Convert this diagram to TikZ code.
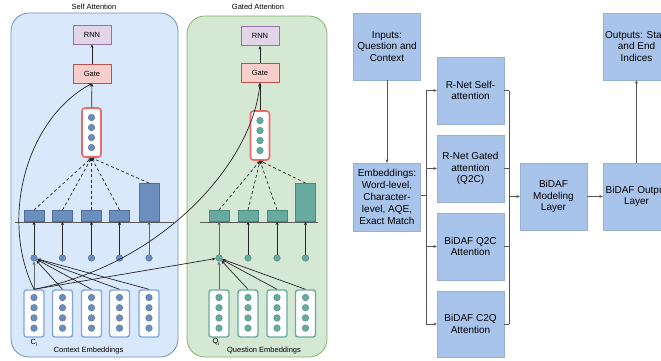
\documentclass[tikz,border=0pt]{standalone}
\usepackage{fontspec}
\setmainfont{Liberation Sans}
\usetikzlibrary{arrows.meta}

\definecolor{panelB}{HTML}{DAE8FC}
\definecolor{panelBline}{HTML}{6C8EBF}
\definecolor{panelG}{HTML}{D5E8D4}
\definecolor{panelGline}{HTML}{82B366}
\definecolor{rnnfill}{HTML}{E1D5E7}
\definecolor{rnnline}{HTML}{9673A6}
\definecolor{gatefill}{HTML}{F8CECC}
\definecolor{gateline}{HTML}{B85450}
\definecolor{vecred}{HTML}{EA6B66}
\definecolor{dotB}{HTML}{6C8EBF}
\definecolor{dotBline}{HTML}{4F6F9F}
\definecolor{dotG}{HTML}{67AB9F}
\definecolor{dotGline}{HTML}{4A8A7E}
\definecolor{embB}{HTML}{7EA6E0}
\definecolor{flowfill}{HTML}{A9C4EB}
\definecolor{flowline}{HTML}{555555}

\begin{document}
\begin{tikzpicture}[x=1pt,y=-1pt,
  font=\fontsize{7.5}{9}\selectfont,
  panel/.style={rounded corners=18pt,line width=0.8pt},
  rnnbox/.style={draw=rnnline,fill=rnnfill,line width=0.8pt,minimum width=38pt,minimum height=19pt,inner sep=0pt},
  gatebox/.style={draw=gateline,fill=gatefill,line width=0.8pt,minimum width=38pt,minimum height=19pt,inner sep=0pt},
  attvec/.style={draw=vecred,fill=white,line width=1.6pt,rounded corners=3pt,minimum width=19pt,minimum height=49pt,inner sep=0pt},
  embvecB/.style={draw=embB,fill=white,line width=1.4pt,rounded corners=2.5pt,minimum width=20pt,minimum height=47pt,inner sep=0pt},
  embvecG/.style={draw=dotG,fill=white,line width=1.4pt,rounded corners=2.5pt,minimum width=20pt,minimum height=47pt,inner sep=0pt},
  dotb/.style={circle,fill=dotB,draw=dotBline,line width=0.4pt,minimum size=6.6pt,inner sep=0pt},
  dotg/.style={circle,fill=dotG,draw=dotGline,line width=0.4pt,minimum size=6.6pt,inner sep=0pt},
  barb/.style={fill=dotB,draw=dotBline,line width=0.5pt,minimum width=20pt,inner sep=0pt,anchor=south},
  barg/.style={fill=dotG,draw=dotGline,line width=0.5pt,minimum width=20pt,inner sep=0pt,anchor=south},
  arr/.style={draw=black!85,line width=0.7pt,-{Stealth[length=3.5pt,width=3pt]}},
  grayarr/.style={draw=black!60,line width=0.8pt,-{Stealth[length=3.5pt,width=3pt]}},
  dasharr/.style={draw=black!85,line width=0.7pt,dash pattern=on 3pt off 2.5pt,-{Stealth[length=3.5pt,width=3pt]}},
  flowbox/.style={fill=flowfill,draw=flowfill!90!black,line width=0.3pt,minimum width=67pt,minimum height=67pt,inner sep=0pt,align=center,font=\fontsize{10}{11.8}\selectfont},
  flowarr/.style={draw=flowline,line width=0.7pt,-{Stealth[length=3.5pt,width=3pt]}},
  flowline/.style={draw=flowline,line width=0.7pt}
]
\useasboundingbox (0,0) rectangle (661,360);

% ---------- Self attention panel ----------
\draw[panel,fill=panelB,draw=panelBline] (11,13) rectangle (178,357);
\node (titleB) at (94,7) {Self Attention};
\node[rnnbox] (brnn) at (92,34.5) {RNN};
\node[gatebox] (bgate) at (92,73.5) {Gate};
\node[attvec] (bvec) at (91.5,132.5) {};
\foreach \dy in {-15,-5,5,15} \node[dotb] at (91.5,132.5+\dy) {};

% bars over the baseline
\draw[line width=0.9pt,draw=black!65] (15,222) -- (174,222);
\node[barb,minimum height=11pt] (bb1) at (34,221.5) {};
\node[barb,minimum height=11pt] (bb2) at (62.5,221.5) {};
\node[barb,minimum height=11pt] (bb3) at (91.5,221.5) {};
\node[barb,minimum height=11pt] (bb4) at (119.5,221.5) {};
\node[barb,minimum height=38pt] (bb5) at (149,221.5) {};

% per-position scores
\foreach \i/\x in {1/34,2/62.5,3/91.5,4/119.5,5/149}{
  \node[dotb] (bc\i) at (\x,258) {};
  \node[embvecB] (be\i) at (\x,313.5) {};
  \foreach \yy in {297.5,307.7,317.9,328.1} \node[dotb] at (\x,\yy) {};
}
\node at (34,343) {C\raisebox{-1.6pt}{\fontsize{5}{5}\selectfont i}};
\node at (88.5,351) {Context Embeddings};

% ---------- Gated attention panel ----------
\draw[panel,fill=panelG,draw=panelGline] (187,16) rectangle (327,357);
\node (titleG) at (258,7) {Gated Attention};
\node[rnnbox] (grnn) at (260,36) {RNN};
\node[gatebox] (ggate) at (260,73) {Gate};
\node[attvec] (gvec) at (260,135.5) {};
\foreach \dy in {-15,-5,5,15} \node[dotg] at (260,135.5+\dy) {};

\draw[line width=0.9pt,draw=black!65] (200,222) -- (318,222);
\node[barg,minimum height=11pt] (gb1) at (219,221.5) {};
\node[barg,minimum height=11pt] (gb2) at (248,221.5) {};
\node[barg,minimum height=11pt] (gb3) at (277,221.5) {};
\node[barg,minimum height=38pt] (gb4) at (305.5,221.5) {};

\foreach \i/\x in {1/219,2/248,3/277,4/305.5}{
  \node[dotg] (gc\i) at (\x,258) {};
  \node[embvecG] (ge\i) at (\x,313.5) {};
  \foreach \yy in {297.5,307.7,317.9,328.1} \node[dotg] at (\x,\yy) {};
}
\node at (216,342) {Q\raisebox{-1.6pt}{\fontsize{5}{5}\selectfont i}};
\node at (264,351) {Question Embeddings};

% ---------- connectors, self attention ----------
\draw[arr] (bgate) -- (brnn);
\draw[arr] (bvec) -- (bgate);
\foreach \i in {1,...,5} \draw[dasharr] (bb\i.north) -- (bvec.south);
\foreach \i in {1,...,4} \draw[arr] (bc\i) -- (bb\i.south);
\draw[grayarr] (bc5) -- (bb5.south);
\draw[grayarr] (be1.north) -- (bc1);
\foreach \i in {2,...,5} \draw[arr] (be\i.north) -- (bc1);
\draw[arr] (be1.north) .. controls (0,220) and (25,120) .. (bgate.south);

% ---------- connectors, gated attention ----------
\draw[arr] (ggate) -- (grnn);
\draw[arr] (gvec) -- (ggate);
\foreach \i in {1,...,4} \draw[dasharr] (gb\i.north) -- (gvec.south);
\draw[grayarr] (gc1) -- (gb1.south);
\foreach \i in {2,...,4} \draw[arr] (gc\i) -- (gb\i.south);
\draw[grayarr] (ge1.north) -- (gc1);
\foreach \i in {2,...,4} \draw[arr] (ge\i.north) -- (gc1);
\draw[arr] (be1.north) -- (gc1);
\draw[arr] (be1.north) .. controls (160,265) and (252,165) .. (ggate.south);

% ---------- pipeline flowchart ----------
\node[flowbox] (inp) at (387,46.5) {Inputs:\\Question and\\Context};
\node[flowbox,minimum height=68pt] (emb) at (387,197) {Embeddings:\\Word-level,\\Character-\\level, AQE,\\Exact Match};
\node[flowbox] (rself) at (470.5,90.5) {R-Net Self-\\attention};
\node[flowbox] (rgate) at (470.5,168.5) {R-Net Gated\\attention\\(Q2C)};
\node[flowbox] (q2c) at (470.5,246.5) {BiDAF Q2C\\Attention};
\node[flowbox,minimum height=66pt] (c2q) at (470.5,324) {BiDAF C2Q\\Attention};
\node[flowbox] (model) at (553.5,196.5) {BiDAF\\Modeling\\Layer};
\node[flowbox] (outl) at (636.5,196.5) {BiDAF Output\\Layer};
\node[flowbox] (outs) at (636.5,46.5) {Outputs: Start\\and End\\Indices};

\coordinate (busL) at (426,195);
\coordinate (busR) at (509,196.5);

\draw[flowarr] (inp) -- (emb);
\draw[flowline] (emb.east |- busL) -- (busL);
\draw[flowline] (busL |- rself) -- (busL |- c2q);
\foreach \b in {rself,rgate,q2c,c2q} \draw[flowarr] (busL |- \b) -- (\b.west);
\foreach \b in {rself,rgate,q2c,c2q} \draw[flowline] (\b.east) -- (busR |- \b);
\draw[flowline] (busR |- rself) -- (busR |- c2q);
\draw[flowarr] (busR) -- (model.west);
\draw[flowarr] (model) -- (outl);
\draw[flowarr] (outl) -- (outs);
\end{tikzpicture}
\end{document}
